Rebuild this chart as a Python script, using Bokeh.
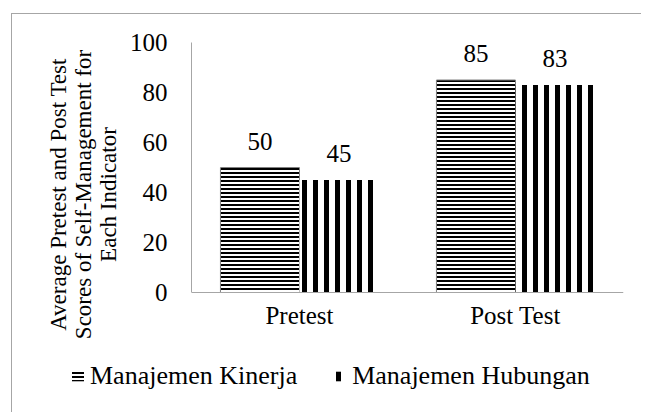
from bokeh.plotting import figure
from bokeh.models import (ColumnDataSource, FactorRange, Range1d, LabelSet, Span,
                          Legend, LegendItem, FixedTicker)
from bokeh.core.properties import value
from bokeh.transform import dodge
from bokeh.embed import file_html
from bokeh.resources import INLINE

categories = ["Pretest", "Post Test"]
kinerja = [50, 85]
hubungan = [45, 83]
series_names = ["Manajemen Kinerja", "Manajemen Hubungan"]
y_ticks = [0, 20, 40, 60, 80, 100]
y_title = "Average Pretest and Post Test\nScores of Self-Management for\nEach Indicator"

FONT = "Liberation Serif"
FS = "25px"
GRAY = "#a6a6a6"

src = ColumnDataSource(dict(cat=categories, k=kinerja, h=hubungan,
                            kl=[str(v) for v in kinerja], hl=[str(v) for v in hubungan]))

# main chart: frame 304 px tall, 100 units = 250 px
p = figure(width=630, height=334, x_range=FactorRange(*categories), y_range=Range1d(-21.6, 100),
           output_backend="svg", toolbar_location=None, x_axis_location=None,
           min_border_left=179, min_border_right=19, min_border_top=28, min_border_bottom=2)
p.styles = {"border-left": "1px solid " + GRAY, "border-top": "1px solid " + GRAY,
            "margin-left": "11px", "margin-top": "13px"}
p.outline_line_color = None
p.xgrid.visible = False
p.ygrid.visible = False
p.x_range.range_padding = 0

bw = 0.366
bar_k = dict(fill_color="white", line_color="#808080", line_width=1,
             hatch_pattern="horizontal_line", hatch_color="black", hatch_scale=4, hatch_weight=2)
bar_h = dict(fill_color="white", line_color=None,
             hatch_pattern="vertical_line", hatch_color="black", hatch_scale=11, hatch_weight=5)
p.vbar(x=dodge("cat", -bw / 2, range=p.x_range), top="k", width=bw, source=src, **bar_k)
p.vbar(x=dodge("cat", bw / 2, range=p.x_range), top="h", width=bw, source=src, **bar_h)

for col, top, off in (("kl", "k", -bw / 2), ("hl", "h", bw / 2)):
    p.add_layout(LabelSet(x=dodge("cat", off, range=p.x_range), y=top, text=col, source=src,
                          y_offset=18, text_align="center", text_baseline="alphabetic",
                          text_font=value(FONT), text_font_size=value(FS), text_color="black"))

# category axis: baseline + category labels
p.add_layout(Span(location=0, dimension="width", line_color=GRAY, line_width=1))
p.add_layout(LabelSet(x="cat", y=value(0), text="cat", source=src, y_offset=-31,
                      text_align="center", text_baseline="alphabetic",
                      text_font=value(FONT), text_font_size=value(FS), text_color="black"))

ax = p.yaxis[0]
ax.bounds = (0, 100)
ax.ticker = FixedTicker(ticks=y_ticks)
ax.axis_line_color = GRAY
ax.major_tick_line_color = None
ax.minor_tick_line_color = None
ax.major_tick_out = 0
ax.major_tick_in = 0
ax.major_label_text_font = FONT
ax.major_label_text_font_size = FS
ax.major_label_text_color = "black"
ax.major_label_standoff = 24
ax.axis_label = y_title
ax.axis_label_text_font = FONT
ax.axis_label_text_font_size = "23px"
ax.axis_label_text_font_style = "normal"
ax.axis_label_text_color = "black"
ax.axis_label_text_line_height = 1.0
ax.axis_label_standoff = 6

# legend strip, a separate root below the chart; its renderers are zero-width and out of view
lg = figure(width=630, height=65, output_backend="svg", toolbar_location=None,
            x_range=FactorRange(*categories), y_range=Range1d(-1000, -999),
            x_axis_location=None, y_axis_location=None,
            min_border_left=58, min_border_right=0, min_border_top=14, min_border_bottom=0)
lg.styles = {"border-left": "1px solid " + GRAY, "margin-left": "11px"}
lg.outline_line_color = None
lg.grid.visible = False
leg_k = dict(bar_k, line_color=None)
e1 = lg.vbar(x="cat", top="k", width=0, source=src, **leg_k)
e2 = lg.vbar(x="cat", top="h", width=0, source=src, **bar_h)
legend = Legend(items=[LegendItem(label=series_names[0], renderers=[e1], index=0),
                       LegendItem(label=series_names[1], renderers=[e2], index=0)],
                orientation="horizontal", location="top_left", margin=0, padding=5,
                label_text_font=FONT, label_text_font_size="26px", label_text_color="black",
                glyph_width=15, glyph_height=12, label_standoff=5, spacing=35,
                border_line_color=None, background_fill_alpha=0)
lg.add_layout(legend)

open("out.html", "w").write(file_html([p, lg], INLINE))
